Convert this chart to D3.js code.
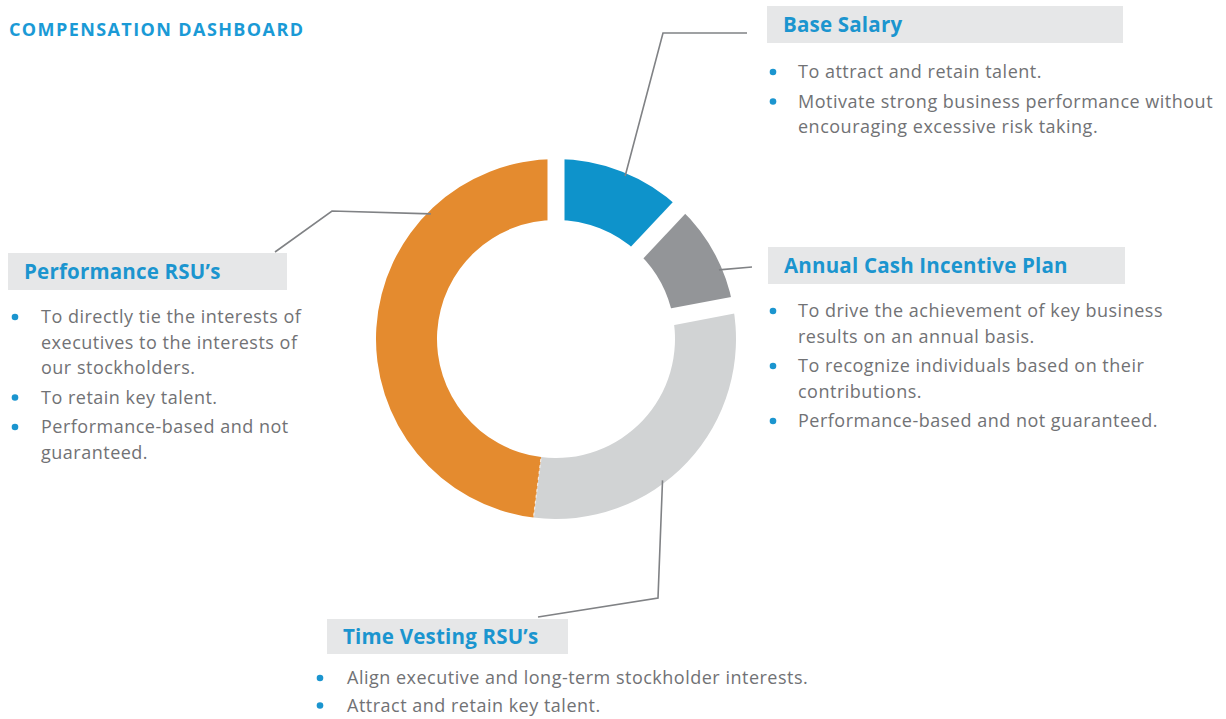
<!DOCTYPE html>
<html>
<head>
<meta charset="utf-8">
<script src="https://cdn.jsdelivr.net/npm/d3@7"></script>
<style>
  body { margin: 0; background: #fff; }
  svg { display: block; }
  .body-text { font-family: "Open Sans", sans-serif; font-size: 18px; letter-spacing: 0.5px; fill: #717275; }
  .head-text { font-family: "Open Sans", sans-serif; font-size: 20.5px; font-weight: 700; letter-spacing: 0.2px; fill: #1b95cf; }
</style>
</head>
<body>
<svg id="chart"></svg>
<script>
const WIDTH = 1226;
const HEIGHT = 719;

// Data
const categories = ["Base Salary", "Annual Cash Incentive Plan", "Time Vesting RSU\u2019s", "Performance RSU\u2019s"];
const shares = [12, 10, 30, 48];
const colors = ["#0e93cb", "#939598", "#d1d3d4", "#e48b2f"];
const bullets = [
  [["To attract and retain talent."],
   ["Motivate strong business performance without", "encouraging excessive risk taking."]],
  [["To drive the achievement of key business", "results on an annual basis."],
   ["To recognize individuals based on their", "contributions."],
   ["Performance-based and not guaranteed."]],
  [["Align executive and long-term stockholder interests."],
   ["Attract and retain key talent."]],
  [["To directly tie the interests of", "executives to the interests of", "our stockholders."],
   ["To retain key talent."],
   ["Performance-based and not", "guaranteed."]]
];

// Layout for the callouts: box [x, y, w, h], leader anchor angle (deg), elbow points,
// bullet x, text x, first bullet line y
const callouts = [
  { box: [767, 6, 356, 37], angle: 23, elbow: [[663, 33], [747, 33]], bx: 773, tx: 798, firstY: 77, gap: 4 },
  { box: [768, 247, 357, 37], angle: 67, elbow: [[752, 267]], bx: 773, tx: 798, firstY: 316, gap: 4 },
  { box: [327, 619, 241, 35], angle: 143, elbow: [[658, 598], [538, 617]], bx: 320, tx: 347, firstY: 683, gap: 2 },
  { box: [8, 253, 279, 37], angle: 315, elbow: [[332, 211], [275, 252]], bx: 15, tx: 41, firstY: 322, gap: 4 }
];

const cx = 556, cy = 339;
const outerR = 180, innerR = 119;
const lineH = 25.5;

const svg = d3.select("#chart")
  .attr("width", WIDTH)
  .attr("height", HEIGHT);

// Title
svg.append("text")
  .attr("x", 9)
  .attr("y", 36)
  .style("font-family", "'Open Sans', sans-serif")
  .style("font-size", "18px")
  .style("font-weight", 700)
  .style("letter-spacing", "1.4px")
  .style("fill", "#1a9ad6")
  .text("COMPENSATION DASHBOARD");

// Donut
const pie = d3.pie().sort(null).value(d => d)
  .startAngle(0).endAngle(2 * Math.PI);
const arcs = pie(shares);
const arc = d3.arc().innerRadius(innerR).outerRadius(outerR);

const donut = svg.append("g")
  .attr("transform", `translate(${cx},${cy})`);

donut.selectAll(".slice")
  .data(arcs)
  .enter()
  .append("path")
  .attr("class", "slice")
  .attr("d", arc)
  .attr("fill", (d, i) => colors[i]);

// white gaps between slices (last boundary has only a hairline)
const radial = a => [Math.sin(a), -Math.cos(a)];
arcs.forEach((d, i) => {
  const [ux, uy] = radial(d.startAngle);
  const hair = i === 3;
  donut.append("line")
    .attr("x1", ux * (innerR - 4)).attr("y1", uy * (innerR - 4))
    .attr("x2", ux * (outerR + 4)).attr("y2", uy * (outerR + 4))
    .attr("stroke", hair ? "rgba(255,255,255,0.7)" : "#fff")
    .attr("stroke-width", hair ? 1.2 : 17)
    .attr("stroke-dasharray", hair ? "3,3" : null);
});

// Leader lines
const leaderG = svg.append("g");
callouts.forEach(c => {
  const a = c.angle * Math.PI / 180;
  const [ux, uy] = radial(a);
  const pts = [[cx + ux * (outerR - 3), cy + uy * (outerR - 3)]].concat(c.elbow);
  leaderG.append("path")
    .attr("d", d3.line()(pts))
    .attr("fill", "none")
    .attr("stroke", "#808285")
    .attr("stroke-width", 1.6);
});

// Callout boxes and bullets
callouts.forEach((c, i) => {
  const g = svg.append("g");
  const [bx, by, bw, bh] = c.box;
  g.append("rect")
    .attr("x", bx).attr("y", by)
    .attr("width", bw).attr("height", bh)
    .attr("fill", "#e6e7e8");
  g.append("text")
    .attr("class", "head-text")
    .attr("x", bx + 16)
    .attr("y", by + bh / 2 + 7)
    .text(categories[i]);

  let y = c.firstY;
  bullets[i].forEach(item => {
    g.append("circle")
      .attr("cx", c.bx)
      .attr("cy", y - 5)
      .attr("r", 3.3)
      .attr("fill", "#1b95cf");
    item.forEach(line => {
      g.append("text")
        .attr("class", "body-text")
        .attr("x", c.tx)
        .attr("y", y + 1)
        .text(line);
      y += lineH;
    });
    y += c.gap;
  });
});
</script>
</body>
</html>
